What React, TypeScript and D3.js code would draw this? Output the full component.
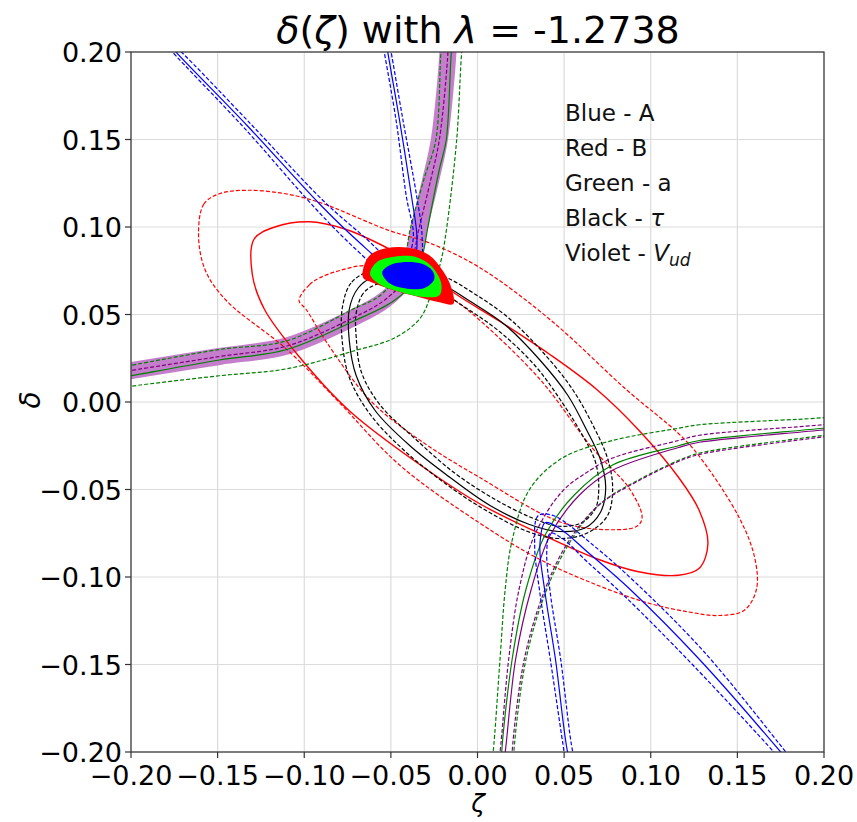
import React from 'react';
import * as d3 from 'd3';

type P = [number, number];

const X_TICKS = [-0.2, -0.15, -0.1, -0.05, 0, 0.05, 0.1, 0.15, 0.2];
const Y_TICKS = [-0.2, -0.15, -0.1, -0.05, 0, 0.05, 0.1, 0.15, 0.2];

// ---- Violet (V_ud) ----
const VIOLET_UP_CENTER: P[] = [[-0.206,0.017],[-0.2,0.018],[-0.149,0.026],[-0.11,0.032],[-0.072,0.048],[-0.054,0.058],[-0.042,0.07],[-0.037,0.084],[-0.034,0.098],[-0.027,0.127],[-0.022,0.15],[-0.017,0.201],[-0.017,0.207]];
const VIOLET_LOW_INNER: P[] = [[0.012,-0.206],[0.013,-0.2],[0.018,-0.147],[0.024,-0.107],[0.033,-0.076],[0.049,-0.051],[0.065,-0.039],[0.078,-0.032],[0.116,-0.022],[0.128,-0.019],[0.199,-0.013],[0.206,-0.012]];
const VIOLET_LOW_SOLID: P[] = [[0.015,-0.206],[0.016,-0.2],[0.022,-0.147],[0.031,-0.107],[0.042,-0.076],[0.059,-0.053],[0.078,-0.039],[0.116,-0.026],[0.128,-0.023],[0.199,-0.016],[0.206,-0.015]];
const VIOLET_LOW_OUTER: P[] = [[0.02,-0.206],[0.02,-0.2],[0.027,-0.147],[0.039,-0.107],[0.053,-0.079],[0.07,-0.059],[0.093,-0.045],[0.116,-0.034],[0.128,-0.03],[0.199,-0.02],[0.206,-0.019]];

// ---- Green (a) ----
const GREEN_UP_SOLID: P[] = [[-0.206,0.014],[-0.2,0.015],[-0.149,0.024],[-0.11,0.03],[-0.072,0.046],[-0.048,0.058],[-0.036,0.07],[-0.031,0.087],[-0.029,0.098],[-0.022,0.133],[-0.018,0.15],[-0.015,0.201],[-0.014,0.207]];
const GREEN_UP_INNER: P[] = [[-0.206,0.02],[-0.2,0.021],[-0.149,0.03],[-0.11,0.035],[-0.072,0.053],[-0.056,0.061],[-0.045,0.075],[-0.041,0.087],[-0.039,0.098],[-0.031,0.127],[-0.024,0.15],[-0.021,0.201],[-0.02,0.207]];
const GREEN_UP_OUTER: P[] = [[-0.206,0.008],[-0.2,0.009],[-0.149,0.015],[-0.11,0.019],[-0.072,0.029],[-0.047,0.037],[-0.033,0.048],[-0.027,0.061],[-0.021,0.081],[-0.018,0.098],[-0.012,0.15],[-0.009,0.201],[-0.008,0.207]];
const GREEN_LOW_INNER: P[] = [[0.008,-0.206],[0.009,-0.2],[0.013,-0.147],[0.016,-0.107],[0.02,-0.079],[0.03,-0.05],[0.049,-0.032],[0.078,-0.022],[0.116,-0.015],[0.128,-0.013],[0.199,-0.009],[0.206,-0.008]];
const GREEN_LOW_SOLID: P[] = [[0.014,-0.206],[0.014,-0.2],[0.02,-0.147],[0.028,-0.107],[0.039,-0.076],[0.056,-0.053],[0.078,-0.036],[0.116,-0.025],[0.128,-0.022],[0.199,-0.015],[0.206,-0.014]];
const GREEN_LOW_OUTER: P[] = [[0.021,-0.206],[0.021,-0.2],[0.028,-0.147],[0.04,-0.107],[0.054,-0.079],[0.071,-0.058],[0.094,-0.044],[0.117,-0.033],[0.129,-0.029],[0.2,-0.019],[0.206,-0.018]];

// ---- Blue (A) ----
const BLUE_UP_SOLID: P[] = [[-0.18,0.207],[-0.175,0.201],[-0.133,0.158],[-0.091,0.113],[-0.068,0.091],[-0.051,0.077],[-0.042,0.074],[-0.036,0.082],[-0.035,0.095],[-0.038,0.117],[-0.045,0.161],[-0.052,0.201],[-0.053,0.207]];
const BLUE_UP_DASH_A: P[] = [[-0.182,0.207],[-0.177,0.201],[-0.135,0.157],[-0.093,0.11],[-0.071,0.088],[-0.053,0.073],[-0.042,0.07],[-0.033,0.08],[-0.032,0.095],[-0.035,0.117],[-0.043,0.161],[-0.05,0.201],[-0.051,0.207]];
const BLUE_UP_DASH_B: P[] = [[-0.179,0.207],[-0.172,0.201],[-0.131,0.159],[-0.089,0.115],[-0.065,0.094],[-0.049,0.08],[-0.043,0.078],[-0.039,0.085],[-0.037,0.096],[-0.041,0.117],[-0.047,0.161],[-0.054,0.201],[-0.055,0.207]];
const BLUE_LOW_SOLID: P[] = [[0.054,-0.206],[0.052,-0.2],[0.045,-0.147],[0.039,-0.109],[0.036,-0.082],[0.039,-0.069],[0.047,-0.072],[0.065,-0.087],[0.088,-0.107],[0.128,-0.147],[0.175,-0.2],[0.18,-0.206]];
const BLUE_LOW_DASH_A: P[] = [[0.051,-0.206],[0.05,-0.2],[0.042,-0.147],[0.036,-0.109],[0.033,-0.082],[0.035,-0.065],[0.044,-0.065],[0.067,-0.082],[0.091,-0.103],[0.131,-0.143],[0.178,-0.2],[0.183,-0.206]];
const BLUE_LOW_DASH_B: P[] = [[0.057,-0.206],[0.055,-0.2],[0.048,-0.147],[0.042,-0.109],[0.04,-0.085],[0.042,-0.075],[0.049,-0.078],[0.063,-0.091],[0.085,-0.111],[0.125,-0.151],[0.171,-0.2],[0.176,-0.206]];

// ---- Red (B) ----
const RED_SOLID: P[] = [[-0.129,0.093],[-0.117,0.1],[-0.097,0.103],[-0.077,0.099],[-0.056,0.09],[-0.033,0.077],[-0.013,0.062],[0.013,0.046],[0.042,0.027],[0.069,0.007],[0.093,-0.016],[0.116,-0.043],[0.128,-0.062],[0.133,-0.081],[0.128,-0.095],[0.116,-0.099],[0.093,-0.097],[0.07,-0.09],[0.04,-0.077],[0.001,-0.058],[-0.033,-0.036],[-0.074,-0.005],[-0.103,0.026],[-0.123,0.053],[-0.13,0.073]];
const RED_OUTER: P[] = [[-0.161,0.095],[-0.158,0.113],[-0.149,0.119],[-0.133,0.121],[-0.111,0.119],[-0.091,0.114],[-0.051,0.098],[-0.028,0.091],[0.001,0.077],[0.042,0.047],[0.086,0.007],[0.116,-0.018],[0.128,-0.031],[0.151,-0.066],[0.16,-0.089],[0.161,-0.107],[0.154,-0.119],[0.139,-0.122],[0.122,-0.12],[0.099,-0.115],[0.07,-0.105],[0.036,-0.09],[0.001,-0.069],[-0.045,-0.036],[-0.081,0.001],[-0.11,0.03],[-0.145,0.058],[-0.157,0.075]];
const RED_INNER: P[] = [[-0.103,0.058],[-0.097,0.067],[-0.091,0.071],[-0.08,0.075],[-0.065,0.078],[-0.045,0.075],[-0.028,0.067],[-0.013,0.058],[0.001,0.047],[0.036,0.013],[0.066,-0.026],[0.088,-0.05],[0.095,-0.066],[0.092,-0.071],[0.078,-0.073],[0.049,-0.069],[0.001,-0.043],[-0.033,-0.022],[-0.062,0.001],[-0.087,0.034],[-0.099,0.053]];

// ---- Black (tau) ----
const BLACK_SOLID: P[] = [[-0.061,0.071],[-0.069,0.065],[-0.074,0.053],[-0.074,0.035],[-0.07,0.015],[-0.059,-0.005],[-0.039,-0.025],[-0.016,-0.043],[0.007,-0.059],[0.03,-0.07],[0.047,-0.074],[0.062,-0.072],[0.071,-0.063],[0.074,-0.049],[0.071,-0.033],[0.063,-0.016],[0.052,0.004],[0.036,0.024],[0.016,0.044],[-0.005,0.058],[-0.022,0.068],[-0.042,0.073]];
const BLACK_OUTER: P[] = [[-0.062,0.075],[-0.073,0.068],[-0.078,0.054],[-0.078,0.034],[-0.074,0.014],[-0.062,-0.007],[-0.042,-0.028],[-0.018,-0.047],[0.005,-0.062],[0.029,-0.074],[0.047,-0.078],[0.063,-0.075],[0.075,-0.065],[0.078,-0.049],[0.075,-0.032],[0.067,-0.014],[0.055,0.007],[0.039,0.027],[0.018,0.048],[-0.002,0.062],[-0.02,0.072],[-0.042,0.077]];
const BLACK_INNER: P[] = [[-0.059,0.067],[-0.066,0.062],[-0.07,0.051],[-0.07,0.037],[-0.067,0.017],[-0.056,-0.002],[-0.036,-0.021],[-0.014,-0.04],[0.009,-0.055],[0.031,-0.066],[0.047,-0.071],[0.06,-0.069],[0.068,-0.061],[0.07,-0.049],[0.068,-0.034],[0.06,-0.018],[0.048,0.001],[0.033,0.021],[0.013,0.04],[-0.007,0.054],[-0.024,0.064],[-0.042,0.069]];

// ---- Central allowed region ----
const BLOB_RED: P[] = [[-0.066,0.076],[-0.062,0.084],[-0.052,0.088],[-0.039,0.088],[-0.028,0.084],[-0.02,0.075],[-0.015,0.065],[-0.014,0.056],[-0.022,0.057],[-0.034,0.06],[-0.049,0.064],[-0.06,0.068],[-0.066,0.071]];
const BLOB_GREEN: P[] = [[-0.062,0.073],[-0.058,0.08],[-0.048,0.083],[-0.036,0.083],[-0.027,0.078],[-0.021,0.068],[-0.022,0.061],[-0.031,0.06],[-0.045,0.063],[-0.056,0.067]];
const BLOB_BLUE: P[] = [[-0.055,0.074],[-0.051,0.078],[-0.042,0.08],[-0.032,0.079],[-0.026,0.075],[-0.025,0.07],[-0.031,0.065],[-0.042,0.065],[-0.051,0.068]];

const W = 857, H = 822;
const M = { left: 131, top: 52, right: 824, bottom: 752 };

const BLUE = '#0000ff', RED = '#ff0000', GREEN = '#008000', BLACK = '#000000', VIOLET = '#800080';
const DASH = '4,2';

export default function App() {
  const x = d3.scaleLinear().domain([-0.2, 0.2]).range([M.left, M.right]);
  const y = d3.scaleLinear().domain([-0.2, 0.2]).range([M.bottom, M.top]);
  const open = d3.line<P>().x(d => x(d[0])).y(d => y(d[1])).curve(d3.curveCatmullRom.alpha(0.5));
  const closed = d3.line<P>().x(d => x(d[0])).y(d => y(d[1])).curve(d3.curveCatmullRomClosed.alpha(0.5));
  const fmt = (v: number) => d3.format('.2f')(v).replace('-', '\u2212');

  const lines: { d: P[]; c: string; dash?: boolean; closed?: boolean; w?: number }[] = [
    { d: RED_OUTER, c: RED, dash: true, closed: true },
    { d: RED_INNER, c: RED, dash: true, closed: true },
    { d: RED_SOLID, c: RED, closed: true, w: 1.4 },
    { d: BLACK_OUTER, c: BLACK, dash: true, closed: true },
    { d: BLACK_INNER, c: BLACK, dash: true, closed: true },
    { d: BLACK_SOLID, c: BLACK, closed: true },
    { d: GREEN_UP_OUTER, c: GREEN, dash: true },
    { d: GREEN_UP_INNER, c: GREEN, dash: true },
    { d: GREEN_UP_SOLID, c: GREEN },
    { d: GREEN_LOW_OUTER, c: GREEN, dash: true },
    { d: GREEN_LOW_INNER, c: GREEN, dash: true },
    { d: GREEN_LOW_SOLID, c: GREEN },
    { d: VIOLET_UP_CENTER, c: VIOLET, dash: true },
    { d: VIOLET_LOW_OUTER, c: VIOLET, dash: true },
    { d: VIOLET_LOW_INNER, c: VIOLET, dash: true },
    { d: VIOLET_LOW_SOLID, c: VIOLET },
    { d: BLUE_UP_DASH_A, c: BLUE, dash: true },
    { d: BLUE_UP_DASH_B, c: BLUE, dash: true },
    { d: BLUE_UP_SOLID, c: BLUE },
    { d: BLUE_LOW_DASH_A, c: BLUE, dash: true },
    { d: BLUE_LOW_DASH_B, c: BLUE, dash: true },
    { d: BLUE_LOW_SOLID, c: BLUE },
  ];

  const font = 'DejaVu Sans, sans-serif';
  const legendY = [121, 156, 191, 226, 261];

  return (
    <svg width={W} height={H} style={{ position: 'absolute', left: 0, top: 0, background: '#fff' }} fontFamily={font}>
      <defs>
        <clipPath id="plot">
          <rect x={M.left} y={M.top} width={M.right - M.left} height={M.bottom - M.top} />
        </clipPath>
      </defs>
      <rect x={0} y={0} width={W} height={H} fill="#fff" />
      {/* grid */}
      <g stroke="#dcdcdc" strokeWidth={1.2}>
        {X_TICKS.map(t => <line key={'gx' + t} x1={x(t)} x2={x(t)} y1={M.top} y2={M.bottom} />)}
        {Y_TICKS.map(t => <line key={'gy' + t} y1={y(t)} y2={y(t)} x1={M.left} x2={M.right} />)}
      </g>
      <g clipPath="url(#plot)">
        <path d={open(VIOLET_UP_CENTER) || ''} fill="none" stroke="#c47ecb" strokeWidth={17} strokeLinejoin="round" />
        {lines.map((l, i) => (
          <path key={i} d={(l.closed ? closed(l.d) : open(l.d)) || ''} fill="none" stroke={l.c}
            strokeWidth={l.w || 1.2} strokeDasharray={l.dash ? DASH : undefined} />
        ))}
        <path d={closed(BLOB_RED) || ''} fill={RED} />
        <path d={closed(BLOB_GREEN) || ''} fill="#00ff00" />
        <path d={closed(BLOB_BLUE) || ''} fill={BLUE} />
      </g>
      {/* frame */}
      <rect x={M.left} y={M.top} width={M.right - M.left} height={M.bottom - M.top} fill="none" stroke="#333" strokeWidth={1.2} />
      {/* ticks */}
      <g stroke="#333" strokeWidth={1.2}>
        {X_TICKS.map(t => <line key={'tx' + t} x1={x(t)} x2={x(t)} y1={M.bottom} y2={M.bottom + 6} />)}
        {Y_TICKS.map(t => <line key={'ty' + t} y1={y(t)} y2={y(t)} x1={M.left - 6} x2={M.left} />)}
      </g>
      <g fontSize={27} fill="#000">
        {X_TICKS.map(t => <text key={'lx' + t} x={x(t)} y={M.bottom + 33} textAnchor="middle">{fmt(t)}</text>)}
        {Y_TICKS.map(t => <text key={'ly' + t} x={M.left - 9} y={y(t) + 10} textAnchor="end">{fmt(t)}</text>)}
      </g>
      {/* title */}
      <text x={478} y={43} textAnchor="middle" fontSize={38}>
        <tspan fontStyle="italic">δ</tspan>(<tspan fontStyle="italic">ζ</tspan>) with <tspan fontStyle="italic">λ</tspan> = -1.2738
      </text>
      {/* axis labels */}
      <text x={478} y={812} textAnchor="middle" fontSize={25} fontStyle="italic">ζ</text>
      <text transform="translate(40,400) rotate(-90)" textAnchor="middle" fontSize={28} fontStyle="italic">δ</text>
      {/* legend text */}
      <g fontSize={23} fill="#111">
        <text x={565} y={legendY[0]}>Blue - A</text>
        <text x={565} y={legendY[1]}>Red - B</text>
        <text x={565} y={legendY[2]}>Green - a</text>
        <text x={565} y={legendY[3]}>Black - <tspan fontStyle="italic">τ</tspan></text>
        <text x={565} y={legendY[4]}>Violet - <tspan fontStyle="italic">V</tspan><tspan fontStyle="italic" fontSize={17} dy={5}>ud</tspan></text>
      </g>
    </svg>
  );
}
